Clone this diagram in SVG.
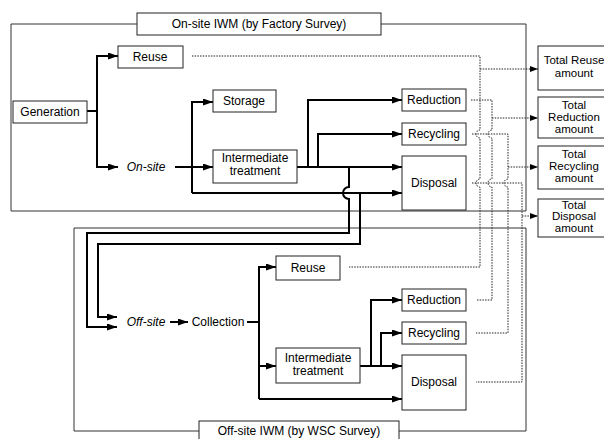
<svg xmlns="http://www.w3.org/2000/svg" width="604" height="439" viewBox="0 0 604 439">
<style>
.box{fill:#fff;stroke:#222;stroke-width:1}
.frame{fill:none;stroke:#333;stroke-width:1}
.conn{fill:none;stroke:#000;stroke-width:2}
.dot{fill:none;stroke:#222;stroke-width:1;stroke-dasharray:1.5 1.2}
text{font-family:"Liberation Sans",Arial,sans-serif;font-size:12px;fill:#000;text-anchor:middle}
.it{font-style:italic}
.tot{font-size:11.5px}
</style>
<defs>
<marker id="ah" markerUnits="userSpaceOnUse" markerWidth="10" markerHeight="7" refX="10" refY="3.5" orient="auto"><path d="M0,0 L10,3.5 L0,7 z" fill="#000"/></marker>
<marker id="ahd" markerUnits="userSpaceOnUse" markerWidth="8" markerHeight="6" refX="8" refY="3" orient="auto"><path d="M0,0 L8,3 L0,6 z" fill="#000"/></marker>
</defs>
<rect width="604" height="439" fill="#fff"/>
<g id="frames">
<path class="frame" d="M137,24 H11 V211 H526 V24 H381"/>
<path class="frame" d="M199,431 H74 V228 H526 V431 H399"/>
</g>
<g id="connectors">
<path class="conn" d="M87,111 H97 V56 H118" marker-end="url(#ah)"/>
<path class="conn" d="M97,111 V167 H118" marker-end="url(#ah)"/>
<path class="conn" d="M175,167 H213" marker-end="url(#ah)"/>
<path class="conn" d="M192,193 V102 H213" marker-end="url(#ah)"/>
<path class="conn" d="M192,193 H402" marker-end="url(#ah)"/>
<path class="conn" d="M297,167 H402" marker-end="url(#ah)"/>
<path class="conn" d="M308,167 V100 H402" marker-end="url(#ah)"/>
<path class="conn" d="M318,167 V134 H402" marker-end="url(#ah)"/>
<path class="conn" d="M349,167 V187 A6,6 0 0 0 349,199 V233 H87 V327 H117" marker-end="url(#ah)"/>
<path class="conn" d="M360,193 V244 H98 V317 H117" marker-end="url(#ah)"/>
<path class="conn" d="M170,322 H188" marker-end="url(#ah)"/>
<path class="conn" d="M247,322 H259"/>
<path class="conn" d="M259,399 V267 H276" marker-end="url(#ah)"/>
<path class="conn" d="M259,366 H276" marker-end="url(#ah)"/>
<path class="conn" d="M259,399 H402" marker-end="url(#ah)"/>
<path class="conn" d="M360,366 H402" marker-end="url(#ah)"/>
<path class="conn" d="M371,366 V300 H402" marker-end="url(#ah)"/>
<path class="conn" d="M381,366 V333 H402" marker-end="url(#ah)"/>
<path class="dot" d="M192,56 H480 V130 A4,4 0 0 0 480,138 V179 A4,4 0 0 0 480,187 V267 H349"/>
<path class="dot" d="M480,69 H538" marker-end="url(#ahd)"/>
<path class="dot" d="M471,100 H492 V130 A4,4 0 0 0 492,138 V179 A4,4 0 0 0 492,187 V300 H476"/>
<path class="dot" d="M492,118 H538" marker-end="url(#ahd)"/>
<path class="dot" d="M472,134 H508 V179 A4,4 0 0 0 508,187 V333 H476"/>
<path class="dot" d="M508,167 H538" marker-end="url(#ahd)"/>
<path class="dot" d="M472,183 H522 V382 H476"/>
<path class="dot" d="M522,216 H538" marker-end="url(#ahd)"/>
</g>
<g id="onsite-title"><rect class="box" x="137" y="13" width="244" height="22"/><text x="259" y="28">On-site IWM (by Factory Survey)</text></g>
<g id="offsite-title"><rect class="box" x="199" y="421" width="200" height="22"/><text x="299" y="435">Off-site IWM (by WSC Survey)</text></g>
<g id="generation"><rect class="box" x="13" y="101" width="74" height="22"/><text x="50" y="116">Generation</text></g>
<g id="on-reuse"><rect class="box" x="118" y="46" width="65" height="22"/><text x="150" y="61">Reuse</text></g>
<g id="on-site"><text class="it" x="146" y="171">On-site</text></g>
<g id="on-storage"><rect class="box" x="213" y="90" width="63" height="22"/><text x="244" y="105">Storage</text></g>
<g id="on-intermediate"><rect class="box" x="213" y="150" width="84" height="33"/><text x="255" y="162">Intermediate</text><text x="255" y="175">treatment</text></g>
<g id="on-reduction"><rect class="box" x="402" y="89" width="64" height="22"/><text x="434" y="104">Reduction</text></g>
<g id="on-recycling"><rect class="box" x="402" y="123" width="64" height="22"/><text x="434" y="138">Recycling</text></g>
<g id="on-disposal"><rect class="box" x="402" y="156" width="64" height="54"/><text x="434" y="187">Disposal</text></g>
<g id="off-site"><text class="it" x="146" y="326">Off-site</text></g>
<g id="collection"><text x="218" y="326">Collection</text></g>
<g id="off-reuse"><rect class="box" x="276" y="256" width="64" height="24"/><text x="308" y="272">Reuse</text></g>
<g id="off-intermediate"><rect class="box" x="276" y="348" width="84" height="35"/><text x="318" y="362">Intermediate</text><text x="318" y="375">treatment</text></g>
<g id="off-reduction"><rect class="box" x="402" y="289" width="64" height="22"/><text x="434" y="304">Reduction</text></g>
<g id="off-recycling"><rect class="box" x="402" y="322" width="64" height="22"/><text x="434" y="337">Recycling</text></g>
<g id="off-disposal"><rect class="box" x="402" y="355" width="64" height="55"/><text x="434" y="386">Disposal</text></g>
<g id="total-reuse"><rect class="box" x="538" y="46" width="76" height="44"/><text class="tot" x="574" y="64">Total Reuse</text><text class="tot" x="574" y="77">amount</text></g>
<g id="total-reduction"><rect class="box" x="538" y="97" width="76" height="41"/><text class="tot" x="574" y="108.5">Total</text><text class="tot" x="574" y="120.5">Reduction</text><text class="tot" x="574" y="132.5">amount</text></g>
<g id="total-recycling"><rect class="box" x="538" y="146" width="76" height="43"/><text class="tot" x="574" y="158">Total</text><text class="tot" x="574" y="170">Recycling</text><text class="tot" x="574" y="182">amount</text></g>
<g id="total-disposal"><rect class="box" x="538" y="199" width="76" height="38"/><text class="tot" x="574" y="208.5">Total</text><text class="tot" x="574" y="220">Disposal</text><text class="tot" x="574" y="231.5">amount</text></g>
</svg>
